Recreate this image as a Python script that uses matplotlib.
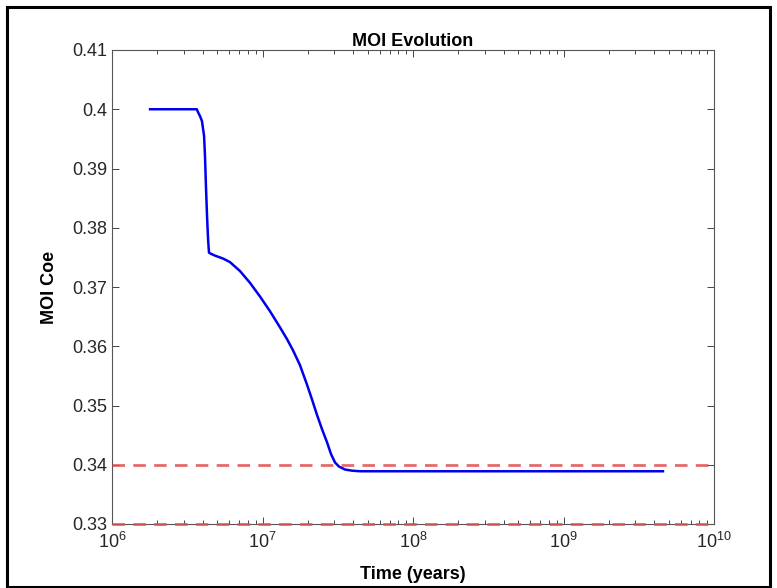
import matplotlib
matplotlib.use("Agg")
import matplotlib.pyplot as plt
from matplotlib.patches import Rectangle
from matplotlib.ticker import LogLocator, NullFormatter

plt.rcParams["font.family"] = ["Liberation Sans", "DejaVu Sans"]

# values
time_years = [1.79e6, 3.66e6, 3.73e6, 3.85e6, 3.96e6, 4.09e6, 4.15e6, 4.21e6,
              4.28e6, 4.35e6, 4.41e6, 4.55e6, 4.83e6, 5.47e6, 6.08e6, 7.08e6,
              8.26e6, 9.62e6, 1.122e7, 1.306e7, 1.455e7, 1.596e7, 1.775e7,
              1.977e7, 2.134e7, 2.303e7, 2.486e7, 2.683e7, 2.853e7, 3.03e7,
              3.22e7, 3.53e7, 3.93e7, 4.45e7, 4.58e9]
moi_coe = [0.4000, 0.4000, 0.3995, 0.3988, 0.3980, 0.3955, 0.3920, 0.3870,
           0.3820, 0.3780, 0.3758, 0.3756, 0.3753, 0.3748, 0.3742, 0.3727,
           0.3707, 0.3684, 0.3659, 0.3632, 0.3612, 0.3593, 0.3568,
           0.3535, 0.3510, 0.3484, 0.3460, 0.3438, 0.3418, 0.3404,
           0.3397, 0.3392, 0.3390, 0.3389, 0.3389]
ref_levels = [0.34, 0.33]
y_ticks = [0.33, 0.34, 0.35, 0.36, 0.37, 0.38, 0.39, 0.40, 0.41]
y_labels = ["0.33", "0.34", "0.35", "0.36", "0.37", "0.38", "0.39", "0.4", "0.41"]

fig = plt.figure(figsize=(7.77, 5.88), dpi=100)
ax = fig.add_axes([112 / 777, 1 - 524 / 588, 602 / 777, 474 / 588])

ax.plot(time_years, moi_coe, color="#0000ee", linewidth=1.8)
for lvl in ref_levels:
    ax.axhline(lvl, color="#e05050", linestyle=(0, (4.5, 3)), linewidth=2,
               alpha=0.85, zorder=4, clip_on=False)

ax.set_xscale("log")
ax.set_xlim(1e6, 1e10)
ax.set_ylim(0.33, 0.41)
ax.set_yticks(y_ticks)
ax.set_yticklabels(y_labels)
ax.xaxis.set_minor_locator(LogLocator(base=10, subs=range(2, 10)))
ax.xaxis.set_minor_formatter(NullFormatter())

ax.tick_params(which="both", direction="in", top=True, right=True,
               colors="#262626", labelsize=13, width=0.6)
ax.tick_params(which="major", length=5)
ax.tick_params(which="minor", length=3)
ax.tick_params(axis="x", pad=6)
for sp in ax.spines.values():
    sp.set_color("#555555")
    sp.set_linewidth(0.8)

ax.set_title("MOI Evolution", fontsize=13, fontweight="bold", pad=3)
ax.set_xlabel("Time (years)", fontsize=13, fontweight="bold")
ax.set_ylabel("MOI Coe", fontsize=13, fontweight="bold")
ax.xaxis.set_label_coords(0.5, -0.088)
ax.yaxis.set_label_coords(-0.09, 0.5)

# screenshot frame around the figure
fig.patches.append(Rectangle((7 / 777, 1 / 588), 763 / 777, 580 / 588,
                             transform=fig.transFigure, fill=False,
                             edgecolor="black", linewidth=2.2, zorder=10))

fig.savefig("out.png", dpi=100)
